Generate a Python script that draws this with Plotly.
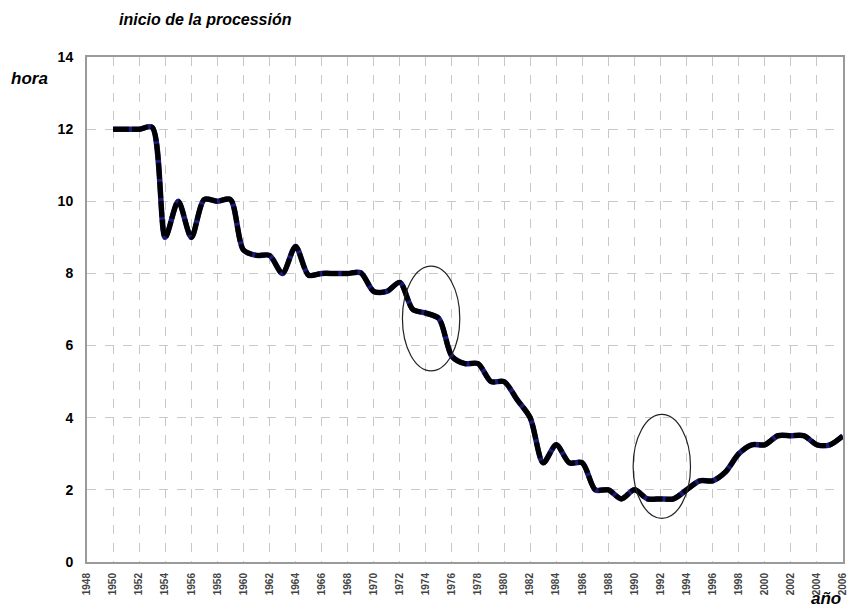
import plotly.graph_objects as go

years = list(range(1950, 2007))
hours = [12, 12, 12, 12.05, 9, 10, 9, 10.05, 10, 10.05,
         8.65, 8.5, 8.5, 8, 8.75, 7.95, 8, 8, 8, 8.02,
         7.5, 7.5, 7.75, 7.0, 6.9, 6.75, 5.7, 5.5, 5.5, 5.0,
         5.0, 4.5, 4.0, 2.75, 3.25, 2.75, 2.75, 2.0, 2.0, 1.75,
         2.0, 1.75, 1.75, 1.75, 2.0, 2.25, 2.25, 2.5, 3.0, 3.25,
         3.25, 3.5, 3.5, 3.5, 3.25, 3.25, 3.5]
x_ticks = list(range(1948, 2007, 2))
y_ticks = list(range(0, 15, 2))

title_text = "inicio de la processión"
y_title = "hora"
x_title = "año"

font = "Liberation Sans, Arial, sans-serif"

W, H = 850, 612
L, T, R, B = 87, 57, 843, 562
pw, ph = R - L, B - T

fig = go.Figure()
fig.add_trace(go.Scatter(x=years, y=hours, mode="lines",
                         line=dict(color="#1a1a7a", width=5.5, shape="spline", smoothing=0.8),
                         hoverinfo="skip", showlegend=False))
fig.add_trace(go.Scatter(x=years, y=hours, mode="lines",
                         line=dict(color="black", width=5, shape="spline", smoothing=0.8,
                                   dash="16px,3px"),
                         showlegend=False))

ellipses = [(1972.2, 5.3, 1976.6, 8.2), (1989.9, 1.21, 1994.3, 4.09)]
for x0, y0, x1, y1 in ellipses:
    fig.add_shape(type="circle", xref="x", yref="y", x0=x0, y0=y0, x1=x1, y1=y1,
                  line=dict(color="#222222", width=1.2))

fig.update_layout(
    width=W, height=H,
    margin=dict(l=L, r=W - R, t=T, b=H - B, autoexpand=False),
    paper_bgcolor="white", plot_bgcolor="white",
    font=dict(family=font, color="black"),
    annotations=[
        dict(text=f"<b><i>{title_text}</i></b>", xref="paper", yref="paper",
             x=(117 - 87) / pw, y=1 + (57 - 20) / ph, xanchor="left", yanchor="middle",
             showarrow=False, font=dict(size=16, family=font)),
        dict(text=f"<b><i>{y_title}</i></b>", xref="paper", yref="paper",
             x=-(87 - 9) / pw, y=1 - (78 - 57) / ph, xanchor="left", yanchor="middle",
             showarrow=False, font=dict(size=17, family=font)),
        dict(text=f"<b><i>{x_title}</i></b>", xref="paper", yref="paper",
             x=1.0, y=-(598 - 562) / ph, xanchor="right", yanchor="middle",
             showarrow=False, font=dict(size=17, family=font)),
    ],
)
fig.update_xaxes(range=[1948, 2006], tickvals=x_ticks,
                 ticktext=[f"<b>{t}</b>" for t in x_ticks],
                 tickangle=-90, tickfont=dict(size=10, family=font, color="#444444"),
                 showgrid=True, gridcolor="#c8c8c8", griddash="dash", gridwidth=1,
                 showline=True, linecolor="#9a9a9a", linewidth=2, mirror=True,
                 ticks="", ticklabelstandoff=5, ticklabeloverflow="allow",
                 zeroline=False, automargin=False)
fig.update_yaxes(range=[0, 14], tickvals=y_ticks,
                 ticktext=[f"<b>{t}</b>" for t in y_ticks],
                 tickfont=dict(size=14, family=font, color="black"),
                 showgrid=True, gridcolor="#c8c8c8", griddash="dash", gridwidth=1,
                 showline=True, linecolor="#9a9a9a", linewidth=2, mirror=True,
                 ticks="", ticklabelstandoff=9, zeroline=False, automargin=False)

fig.write_html("out.html", config={"displayModeBar": False},
               post_script="document.body.style.margin='0px';document.body.style.overflow='hidden';")
